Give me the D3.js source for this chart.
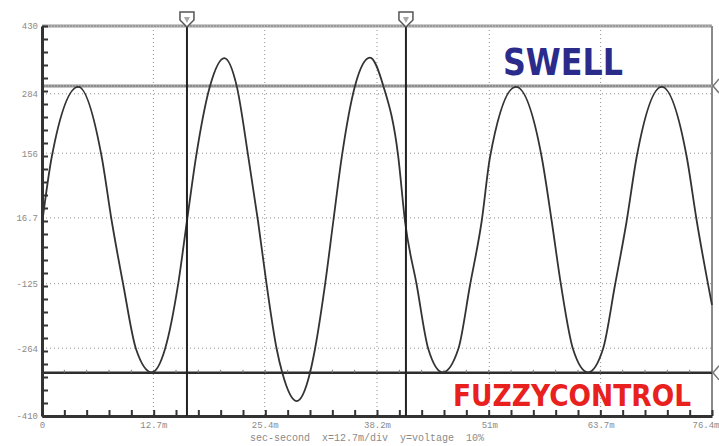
<!DOCTYPE html>
<html><head><meta charset="utf-8">
<script src="https://cdn.jsdelivr.net/npm/d3@7"></script>
<style>html,body{margin:0;padding:0;background:#fff;}svg{display:block;}</style>
</head><body>
<svg id="chart" width="719" height="446"></svg>
<script>
// ---- data ----
const timeMs = [0, 1.11, 4.14, 6.81, 7.95, 9.27, 10.72, 12.51, 14.03, 15.51,
  16.53, 17.56, 19.16, 20.79, 22.20, 23.53, 24.63, 25.62, 26.76, 27.40,
  29.04, 30.56, 31.13, 32.27, 33.22, 34.18, 35.69, 37.40, 38.92, 40.63,
  41.39, 42.73, 44.05, 45.69, 47.47, 48.81, 50.14, 51.09, 54.05, 56.98,
  58.12, 59.18, 60.55, 62.26, 63.97, 65.34, 66.67, 67.81, 70.67, 73.52,
  74.66, 76.4];
const voltage = [3.5, 147.8, 299, 147.8, 10, -127.8, -265.7, -316, -265.7, -127.8,
  10, 147.8, 301, 361, 301, 147.8, 10, -127.8, -265.7, -317,
  -378, -317, -265.7, -127.8, 10, 147.8, 301, 362, 301, 147.8,
  10, -127.8, -265.7, -316, -265.7, -127.8, 10, 147.8, 299, 147.8,
  10, -127.8, -265.7, -316, -265.7, -127.8, 10, 147.8, 299, 147.8,
  10, -171];
const xTickValues = [0, 12.7, 25.4, 38.2, 51, 63.7, 76.4];
const xTickLabels = ["0", "12.7m", "25.4m", "38.2m", "51m", "63.7m", "76.4m"];
const yTickValues = [430, 284, 156, 16.7, -125, -264, -410];
const yTickLabels = ["430", "284", "156", "16.7", "-125", "-264", "-410"];
const thresholds = [301, -317];          // upper (swell) and lower (fuzzy control) limits
const cursorTimes = [16.53, 41.5];       // vertical cursors (ms)
const labels = ["SWELL", "FUZZYCONTROL"];
const caption = "sec-second  x=12.7m/div  y=voltage  10%";

// ---- scales ----
const svg = d3.select("#chart");
const x = d3.scaleLinear().domain([0, 76.4]).range([42, 712]);
const y = d3.scaleLinear().domain([-410, 430]).range([416, 26]);
const tickFont = "'Liberation Mono', 'DejaVu Sans Mono', monospace";

// gridlines
const grid = svg.append("g");
grid.selectAll("line.h").data(yTickValues.slice(1, -1)).join("line")
  .attr("x1", x(0)).attr("x2", x(76.4))
  .attr("y1", d => y(d)).attr("y2", d => y(d))
  .attr("stroke", "#8f8f8f").attr("stroke-width", 1).attr("stroke-dasharray", "1,3");
grid.selectAll("line.v").data(xTickValues.slice(1, -1)).join("line")
  .attr("x1", d => x(d)).attr("x2", d => x(d))
  .attr("y1", y(430)).attr("y2", y(-410))
  .attr("stroke", "#8f8f8f").attr("stroke-width", 1).attr("stroke-dasharray", "1,3");

// top & right border (grey)
svg.append("line").attr("x1", x(0)).attr("x2", x(76.4)).attr("y1", y(430)).attr("y2", y(430))
  .attr("stroke", "#9a9a9a").attr("stroke-width", 3);
svg.append("line").attr("x1", x(0)).attr("x2", x(76.4)).attr("y1", y(430)).attr("y2", y(430))
  .attr("stroke", "#cfcfcf").attr("stroke-width", 1).attr("stroke-dasharray", "1,2");
svg.append("line").attr("x1", x(76.4)).attr("x2", x(76.4)).attr("y1", y(430)).attr("y2", y(-410))
  .attr("stroke", "#8a8a8a").attr("stroke-width", 2);

// threshold lines
svg.append("line").attr("x1", x(0)).attr("x2", x(76.4)).attr("y1", y(thresholds[0])).attr("y2", y(thresholds[0]))
  .attr("stroke", "#8c8c8c").attr("stroke-width", 3);
svg.append("line").attr("x1", x(0)).attr("x2", x(76.4)).attr("y1", y(thresholds[0])).attr("y2", y(thresholds[0]))
  .attr("stroke", "#c4c4c4").attr("stroke-width", 1).attr("stroke-dasharray", "1,2");
svg.append("line").attr("x1", x(0)).attr("x2", x(76.4)).attr("y1", y(thresholds[1])).attr("y2", y(thresholds[1]))
  .attr("stroke", "#2e2e2e").attr("stroke-width", 2.5);
// small tick marks on lower threshold
const minorX = d3.range(0, 31).map(i => i * 76.4 / 30);
svg.append("g").selectAll("line").data(minorX).join("line")
  .attr("x1", d => x(d)).attr("x2", d => x(d))
  .attr("y1", y(thresholds[1]) - 3).attr("y2", y(thresholds[1]))
  .attr("stroke", "#777").attr("stroke-width", 1);
// right edge markers
svg.append("g").selectAll("path").data(thresholds).join("path")
  .attr("d", d => `M719,${y(d) - 7} L713,${y(d)} L719,${y(d) + 7}`)
  .attr("fill", "none").attr("stroke", "#777").attr("stroke-width", 1.5);

// axes
const yAxis = d3.axisLeft(y).tickValues(yTickValues).tickFormat((d, i) => yTickLabels[i]).tickSize(0).tickPadding(4);
const gy = svg.append("g").attr("transform", `translate(${x(0)},0)`).call(yAxis);
gy.select(".domain").attr("stroke", "#333").attr("stroke-width", 3);
gy.selectAll("text").attr("fill", "#8a8a8a").attr("font-family", tickFont).attr("font-size", 9);
const yMinor = d3.axisLeft(y).tickValues(d3.range(0, 31).map(i => -410 + i * 28)).tickSize(-6).tickFormat("");
const gym = svg.append("g").attr("transform", `translate(${x(0)},0)`).call(yMinor);
gym.select(".domain").remove();
gym.selectAll("line").attr("stroke", "#333").attr("stroke-width", 2);

const xAxis = d3.axisBottom(x).tickValues(xTickValues).tickFormat((d, i) => xTickLabels[i]).tickSize(0).tickPadding(6);
const gx = svg.append("g").attr("transform", `translate(0,${y(-410)})`).call(xAxis);
gx.select(".domain").attr("stroke", "#333").attr("stroke-width", 3);
gx.selectAll("text").attr("fill", "#8a8a8a").attr("font-family", tickFont).attr("font-size", 9);
gx.selectAll("text").filter((d, i) => i === xTickValues.length - 1)
  .attr("text-anchor", "end").attr("dx", 7);
const xMinor = d3.axisBottom(x).tickValues(minorX).tickSize(-6).tickFormat("");
const gxm = svg.append("g").attr("transform", `translate(0,${y(-410)})`).call(xMinor);
gxm.select(".domain").remove();
gxm.selectAll("line").attr("stroke", "#333").attr("stroke-width", 2);

// waveform
const pts = timeMs.map((t, i) => [t, voltage[i]]);
svg.append("path").datum(pts)
  .attr("d", d3.line().x(d => x(d[0])).y(d => y(d[1])).curve(d3.curveMonotoneX))
  .attr("fill", "none").attr("stroke", "#333").attr("stroke-width", 1.8);

// cursors
svg.append("g").selectAll("line").data(cursorTimes).join("line")
  .attr("x1", d => x(d)).attr("x2", d => x(d)).attr("y1", y(430)).attr("y2", y(-410))
  .attr("stroke", "#222").attr("stroke-width", 2);
const cm = svg.append("g").selectAll("g").data(cursorTimes).join("g")
  .attr("transform", d => `translate(${x(d)},0)`);
cm.append("path").attr("d", "M-7,12 L7,12 L7,20 L0,27 L-7,20 Z")
  .attr("fill", "#fff").attr("stroke", "#555").attr("stroke-width", 1.5);
cm.append("path").attr("d", "M-3,17 L3,17 L0,23 Z").attr("fill", "#aaa");

// labels
svg.append("text").text(labels[0]).attr("x", 503).attr("y", 75)
  .attr("font-family", "'DejaVu Sans', sans-serif").attr("font-weight", "bold").attr("font-size", 37)
  .attr("textLength", 120).attr("lengthAdjust", "spacingAndGlyphs").attr("fill", "#2b2b8c");
svg.append("text").text(labels[1]).attr("x", 453).attr("y", 406)
  .attr("font-family", "'DejaVu Sans', sans-serif").attr("font-weight", "bold").attr("font-size", 30)
  .attr("textLength", 238).attr("lengthAdjust", "spacingAndGlyphs").attr("fill", "#e8201e");

svg.append("text").text(caption).attr("x", 250).attr("y", 441)
  .attr("font-family", tickFont).attr("font-size", 10).attr("fill", "#8a8a8a")
  .attr("xml:space", "preserve").style("white-space", "pre");
</script>
</body></html>
